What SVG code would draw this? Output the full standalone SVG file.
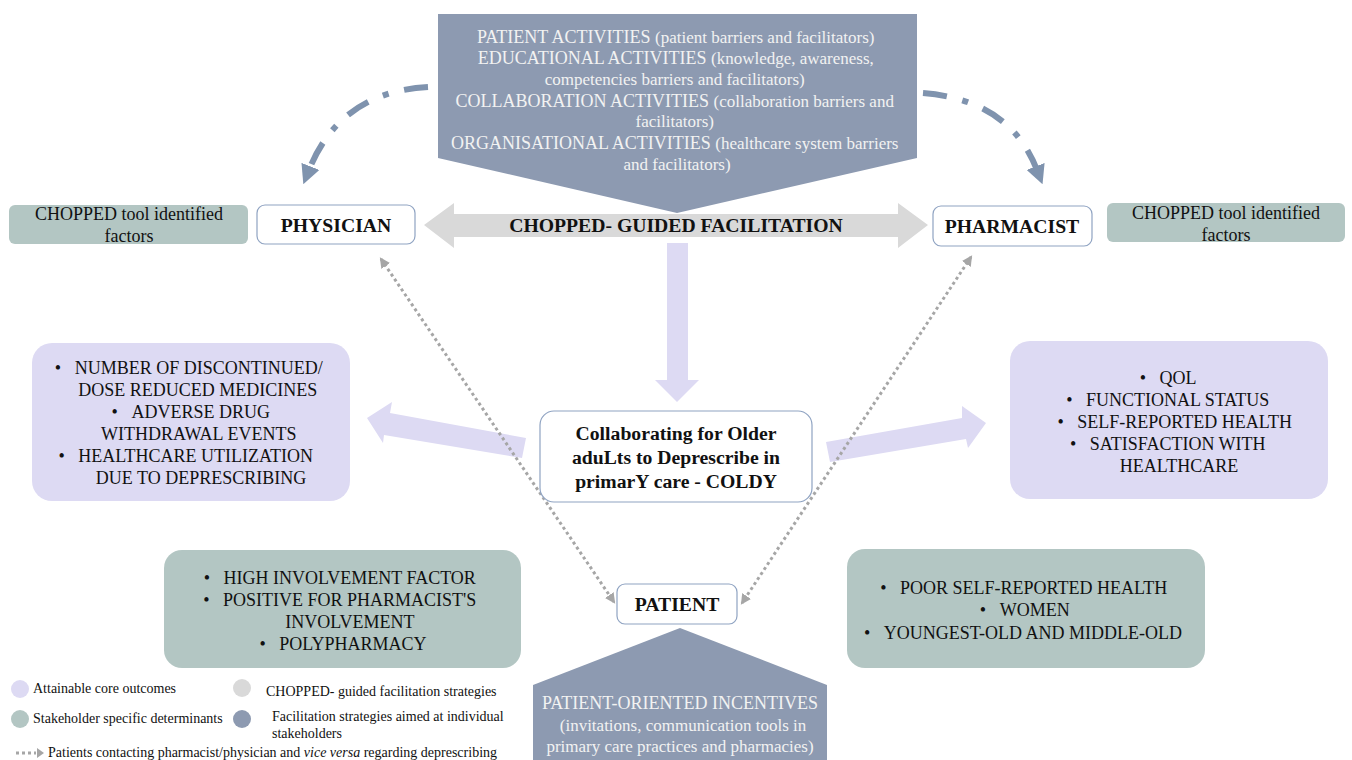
<svg xmlns="http://www.w3.org/2000/svg" width="1352" height="760" viewBox="0 0 1352 760">
<defs>
<style>
.t{font-family:'Liberation Serif','DejaVu Serif',serif;fill:#111}
.w{font-family:'Liberation Serif','DejaVu Serif',serif;fill:#f2f2f2}
.b{font-weight:bold}
.node{fill:#fff;stroke:#8fa3c2;stroke-width:1.2}
.green{fill:#b3c6c3}
.lav{fill:#dddaf3}
.slate{fill:#8d9ab1}
.grey{fill:#d9d9d9}
.dd{fill:none;stroke:#7f93ae;stroke-width:6;stroke-dasharray:24 16 6 16}
.dot{fill:none;stroke:#a6a6a6;stroke-width:3;stroke-dasharray:3 3}
</style>
<marker id="ah" viewBox="0 0 10 10" refX="2" refY="5" markerWidth="3.2" markerHeight="3.2" orient="auto" markerUnits="strokeWidth"><path d="M0,0 L10,5 L0,10 Z" fill="#7f93ae"/></marker>
<marker id="dh" viewBox="0 0 10 10" refX="8" refY="5" markerWidth="3.5" markerHeight="3.5" orient="auto-start-reverse" markerUnits="strokeWidth"><path d="M0,0 L10,5 L0,10 Z" fill="#a6a6a6"/></marker>
</defs>
<rect width="1352" height="760" fill="#fff"/>

<g id="connectors">
<path class="dd" d="M428,87 Q340,92 309,170" marker-end="url(#ah)"/>
<path class="dd" d="M923,93 Q1010,100 1037,170" marker-end="url(#ah)"/>
<polygon class="grey" points="424,225 454,203 454,214 898,214 898,203 928,225 898,248 898,237 454,237 454,248"/>
<polygon class="lav" points="667,243 688,243 688,380 699,380 677,402 655,380 667,380"/>
<polygon class="lav" points="526,438 522,458 384,435 383,443 367,418 392,402 390,413"/>
<polygon class="lav" points="826,442 830,462 966,439 968,448 986,423 962,406 962,418"/>
<path class="dot" d="M381,259 L614,602" marker-start="url(#dh)" marker-end="url(#dh)"/>
<path class="dot" d="M971,257 L742,603" marker-start="url(#dh)" marker-end="url(#dh)"/>
</g>

<g id="top-strategies">
<polygon class="slate" points="438,14 917,14 917,158 677,213 438,158"/>
<text class="w" text-anchor="middle" font-size="18">
<tspan x="678" y="43">PATIENT ACTIVITIES <tspan font-size="17">(patient barriers and facilitators)</tspan></tspan>
<tspan x="678" y="64">EDUCATIONAL ACTIVITIES <tspan font-size="17">(knowledge, awareness,</tspan></tspan>
<tspan x="677" y="85" font-size="17">competencies barriers and facilitators)</tspan>
<tspan x="677" y="107">COLLABORATION ACTIVITIES <tspan font-size="17">(collaboration barriers and</tspan></tspan>
<tspan x="677" y="127" font-size="17">facilitators)</tspan>
<tspan x="677" y="149">ORGANISATIONAL ACTIVITIES <tspan font-size="17">(healthcare system barriers</tspan></tspan>
<tspan x="677" y="170" font-size="17">and facilitators)</tspan>
</text>
</g>

<g id="chopped-label">
<text class="t b" x="676" y="232" text-anchor="middle" font-size="19.7">CHOPPED- GUIDED FACILITATION</text>
</g>

<g id="physician">
<rect class="node" x="257" y="205" width="158" height="39" rx="8"/>
<text class="t b" x="336" y="232" text-anchor="middle" font-size="19.7">PHYSICIAN</text>
</g>
<g id="pharmacist">
<rect class="node" x="933" y="206" width="159" height="40" rx="8"/>
<text class="t b" x="1012" y="233" text-anchor="middle" font-size="19.7">PHARMACIST</text>
</g>

<g id="chopped-left">
<rect class="green" x="9" y="205" width="239" height="39" rx="6"/>
<text class="t" text-anchor="middle" font-size="18"><tspan x="129" y="220">CHOPPED tool identified</tspan><tspan x="129" y="242">factors</tspan></text>
</g>
<g id="chopped-right">
<rect class="green" x="1107" y="203" width="238" height="39" rx="6"/>
<text class="t" text-anchor="middle" font-size="18"><tspan x="1226" y="219">CHOPPED tool identified</tspan><tspan x="1226" y="241">factors</tspan></text>
</g>

<g id="coldy">
<rect class="node" x="540" y="411" width="272" height="91" rx="14"/>
<text class="t b" text-anchor="middle" font-size="19.7"><tspan x="676" y="440">Collaborating for Older</tspan><tspan x="676" y="464">aduLts to Deprescribe in</tspan><tspan x="676" y="488">primarY care - COLDY</tspan></text>
</g>

<g id="outcomes-left">
<rect class="lav" x="32" y="343" width="318" height="158" rx="20"/>
<text class="t" text-anchor="middle" font-size="18">
<tspan x="191" y="374">•&#160;&#160;&#160;NUMBER OF DISCONTINUED/</tspan>
<tspan x="200" y="396">DOSE REDUCED MEDICINES</tspan>
<tspan x="193" y="418">•&#160;&#160;&#160;ADVERSE DRUG</tspan>
<tspan x="201" y="440">WITHDRAWAL EVENTS</tspan>
<tspan x="188" y="462">•&#160;&#160;&#160;HEALTHCARE UTILIZATION</tspan>
<tspan x="201" y="484">DUE TO DEPRESCRIBING</tspan>
</text>
</g>

<g id="outcomes-right">
<rect class="lav" x="1010" y="341" width="318" height="158" rx="20"/>
<text class="t" text-anchor="middle" font-size="18">
<tspan x="1170" y="384">•&#160;&#160;&#160;QOL</tspan>
<tspan x="1170" y="406">•&#160;&#160;&#160;FUNCTIONAL STATUS</tspan>
<tspan x="1177" y="428">•&#160;&#160;&#160;SELF-REPORTED HEALTH</tspan>
<tspan x="1170" y="450">•&#160;&#160;&#160;SATISFACTION WITH</tspan>
<tspan x="1179" y="472">HEALTHCARE</tspan>
</text>
</g>

<g id="determinants-left">
<rect class="green" x="164" y="550" width="357" height="118" rx="18"/>
<text class="t" text-anchor="middle" font-size="18">
<tspan x="342" y="584">•&#160;&#160;&#160;HIGH INVOLVEMENT FACTOR</tspan>
<tspan x="342" y="606">•&#160;&#160;&#160;POSITIVE FOR PHARMACIST'S</tspan>
<tspan x="352" y="628">INVOLVEMENT</tspan>
<tspan x="343" y="650">•&#160;&#160;&#160;POLYPHARMACY</tspan>
</text>
</g>

<g id="determinants-right">
<rect class="green" x="847" y="549" width="358" height="119" rx="18"/>
<text class="t" text-anchor="middle" font-size="18">
<tspan x="1026" y="594">•&#160;&#160;&#160;POOR SELF-REPORTED HEALTH</tspan>
<tspan x="1027" y="616">•&#160;&#160;&#160;WOMEN</tspan>
<tspan x="1023" y="639">•&#160;&#160;&#160;YOUNGEST-OLD AND MIDDLE-OLD</tspan>
</text>
</g>

<g id="patient">
<rect class="node" x="617" y="584" width="120" height="40" rx="8"/>
<text class="t b" x="677" y="611" text-anchor="middle" font-size="19.7">PATIENT</text>
</g>

<g id="patient-incentives">
<polygon class="slate" points="680,628 827,685 827,760 533,760 533,685"/>
<text class="w" text-anchor="middle"><tspan x="680" y="709" font-size="18">PATIENT-ORIENTED INCENTIVES</tspan><tspan x="683" y="731" font-size="17">(invitations, communication tools in</tspan><tspan x="680" y="752" font-size="17">primary care practices and pharmacies)</tspan></text>
</g>

<g id="legend">
<circle cx="20" cy="689" r="9" class="lav"/>
<circle cx="20" cy="719" r="9" class="green"/>
<circle cx="242" cy="688" r="9" class="grey"/>
<circle cx="242" cy="719" r="9" class="slate"/>
<text class="t" font-size="14" x="33" y="693">Attainable core outcomes</text>
<text class="t" font-size="14" x="33" y="723">Stakeholder specific determinants</text>
<text class="t" font-size="14" x="266" y="696">CHOPPED- guided facilitation strategies</text>
<text class="t" font-size="14"><tspan x="272" y="721">Facilitation strategies aimed at individual</tspan><tspan x="272" y="738">stakeholders</tspan></text>
<path d="M16,753 L36,753" stroke="#a6a6a6" stroke-width="3" stroke-dasharray="3 3"/>
<polygon points="37,748 44,753 37,758" fill="#a6a6a6"/>
<text class="t" font-size="14" x="48" y="757">Patients contacting pharmacist/physician and <tspan font-style="italic">vice versa</tspan> regarding deprescribing</text>
</g>
</svg>
